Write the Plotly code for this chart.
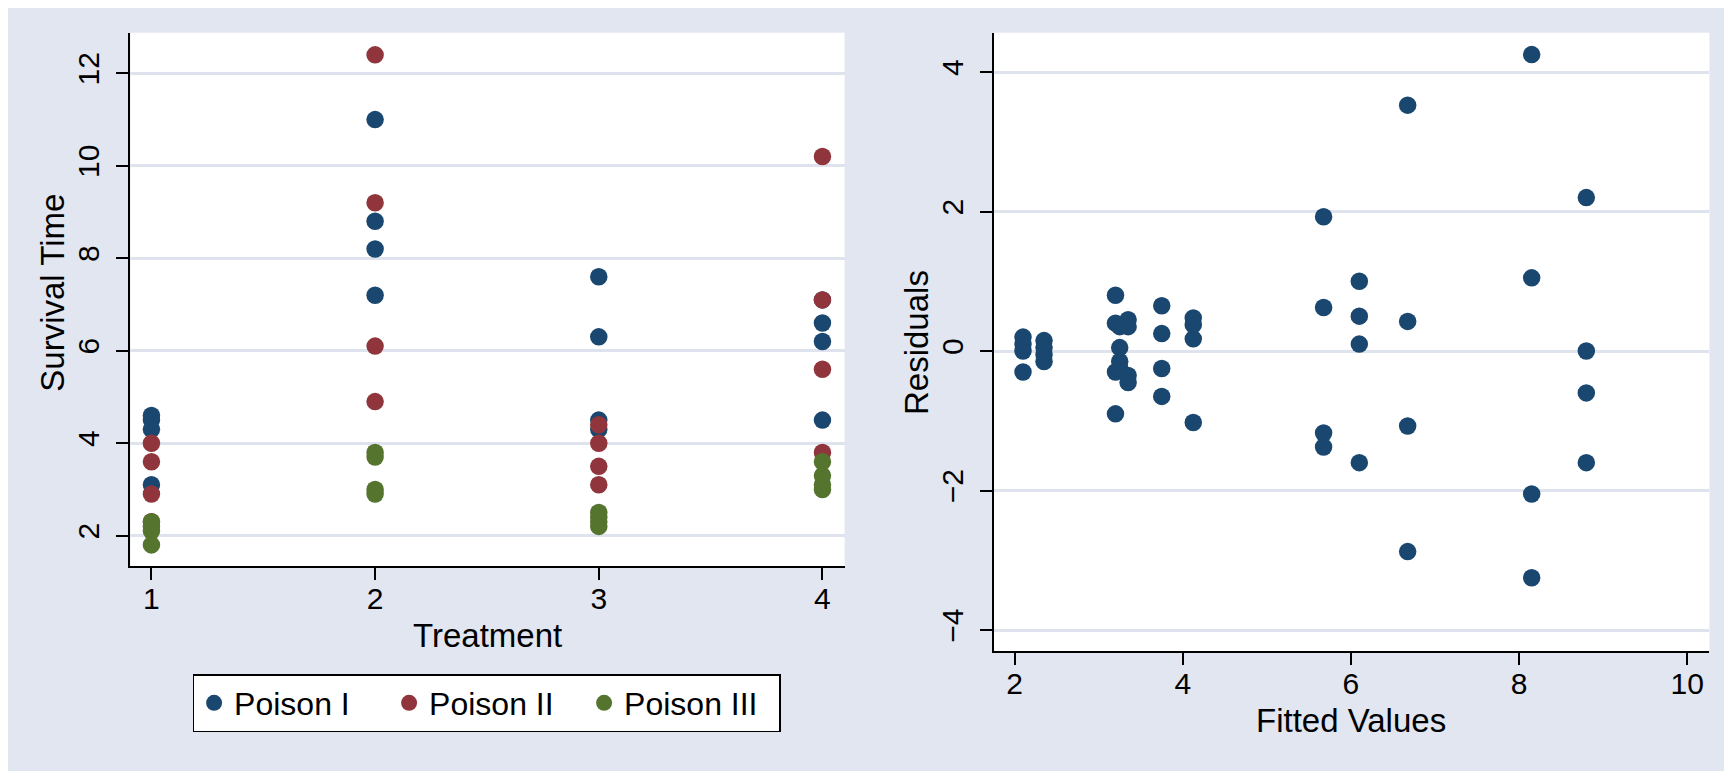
import plotly.graph_objects as go

# ---- Data: poison survival times (units of 10 hours) ----
treat = [1, 1, 1, 1, 2, 2, 2, 2, 3, 3, 3, 3, 4, 4, 4, 4]
time_poison_i = [3.1, 4.5, 4.6, 4.3, 8.2, 11.0, 8.8, 7.2, 4.3, 4.5, 6.3, 7.6, 4.5, 7.1, 6.6, 6.2]
time_poison_ii = [3.6, 2.9, 4.0, 2.3, 9.2, 6.1, 4.9, 12.4, 4.4, 3.5, 3.1, 4.0, 5.6, 10.2, 7.1, 3.8]
time_poison_iii = [2.2, 2.1, 1.8, 2.3, 3.0, 3.7, 3.8, 2.9, 2.3, 2.5, 2.4, 2.2, 3.0, 3.6, 3.1, 3.3]

fitted = [4.125, 4.125, 4.125, 4.125, 8.8, 8.8, 8.8, 8.8, 5.675, 5.675, 5.675, 5.675,
          6.1, 6.1, 6.1, 6.1, 3.2, 3.2, 3.2, 3.2, 8.15, 8.15, 8.15, 8.15,
          3.75, 3.75, 3.75, 3.75, 6.675, 6.675, 6.675, 6.675, 2.1, 2.1, 2.1, 2.1,
          3.35, 3.35, 3.35, 3.35, 2.35, 2.35, 2.35, 2.35, 3.25, 3.25, 3.25, 3.25]
residuals = [-1.025, 0.375, 0.475, 0.175, -0.6, 2.2, 0.0, -1.6, -1.375, -1.175, 0.625, 1.925,
             -1.6, 1.0, 0.5, 0.1, 0.4, -0.3, 0.8, -0.9, 1.05, -2.05, -3.25, 4.25,
             0.65, -0.25, -0.65, 0.25, -1.075, 3.525, 0.425, -2.875, 0.1, 0.0, -0.3, 0.2,
             -0.35, 0.35, 0.45, -0.45, -0.05, 0.15, 0.05, -0.15, -0.25, 0.35, -0.15, 0.05]

series_names = ["Poison I", "Poison II", "Poison III"]
series_colors = ["rgb(26,71,111)", "rgb(144,53,59)", "rgb(85,117,47)"]

left_xticks = [1, 2, 3, 4]
left_yticks = [2, 4, 6, 8, 10, 12]
right_xticks = [2, 4, 6, 8, 10]
right_yticks = [-4, -2, 0, 2, 4]

OFF = 8  # page body margin
W, H = 1732 - OFF, 771 - OFF
BG = "rgb(225,230,240)"
GRID = "rgb(222,227,238)"
FONT = "Liberation Sans, Arial, sans-serif"
MS = 17.5


def px(x):
    return (x - OFF) / W


def py(y):
    return 1 - (y - OFF) / H


fig = go.Figure()

for name, col, vals in zip(series_names, series_colors,
                           [time_poison_i, time_poison_ii, time_poison_iii]):
    fig.add_trace(go.Scatter(x=treat, y=vals, mode="markers", name=name,
                             marker=dict(color=col, size=MS, line=dict(width=0)),
                             xaxis="x", yaxis="y"))

fig.add_trace(go.Scatter(x=fitted, y=residuals, mode="markers", showlegend=False,
                         marker=dict(color=series_colors[0], size=MS, line=dict(width=0)),
                         xaxis="x2", yaxis="y2"))

axis_common = dict(showline=True, linecolor="black", linewidth=2, ticks="outside",
                   ticklen=12, tickwidth=1.5, tickcolor="black", zeroline=False,
                   tickfont=dict(family=FONT, size=30, color="black"))
xcommon = dict(showgrid=False, ticklabelstandoff=-7, **axis_common)
ycommon = dict(showgrid=True, gridcolor=GRID, gridwidth=2.5, tickangle=-90,
               ticklabelstandoff=5, **axis_common)

fig.update_layout(
    width=W, height=H,
    margin=dict(l=0, r=0, t=0, b=0),
    paper_bgcolor=BG, plot_bgcolor="white",
    font=dict(family=FONT, color="black"),
    xaxis=dict(domain=[px(130.4), px(844.6)], anchor="y", range=[0.906, 4.099],
               tickvals=left_xticks, **xcommon),
    yaxis=dict(domain=[py(566), py(32.7)], anchor="x", range=[1.344, 12.879],
               tickvals=left_yticks, **ycommon),
    xaxis2=dict(domain=[px(994.1), px(1709.4)], anchor="y2", range=[1.756, 10.264],
                tickvals=right_xticks, **xcommon),
    yaxis2=dict(domain=[py(651), py(32.7)], anchor="x2", range=[-4.30, 4.564],
                tickvals=right_yticks, **ycommon),
    legend=dict(orientation="h", x=px(192.6), y=py(674), xanchor="left", yanchor="top",
                bgcolor="white", bordercolor="black", borderwidth=1.5,
                entrywidth=150, entrywidthmode="pixels",
                font=dict(family=FONT, size=32, color="black")),
    showlegend=True,
)

# axis titles
fig.add_annotation(text="Treatment", x=px(487.5), y=py(635), xref="paper", yref="paper",
                   showarrow=False, xanchor="center", yanchor="middle",
                   font=dict(family=FONT, size=33, color="black"))
fig.add_annotation(text="Survival Time", x=px(52.7), y=py(293), xref="paper", yref="paper",
                   showarrow=False, xanchor="center", yanchor="middle", textangle=-90,
                   font=dict(family=FONT, size=33, color="black"))
fig.add_annotation(text="Fitted Values", x=px(1351), y=py(720), xref="paper", yref="paper",
                   showarrow=False, xanchor="center", yanchor="middle",
                   font=dict(family=FONT, size=33, color="black"))
fig.add_annotation(text="Residuals", x=px(916), y=py(342), xref="paper", yref="paper",
                   showarrow=False, xanchor="center", yanchor="middle", textangle=-90,
                   font=dict(family=FONT, size=33, color="black"))

fig.write_html("out.html")
